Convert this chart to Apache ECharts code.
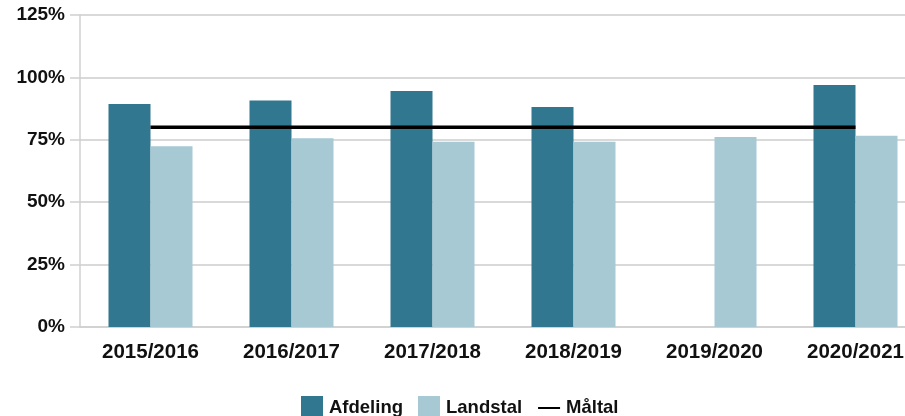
<!DOCTYPE html>
<html>
<head>
<meta charset="utf-8">
<script src="https://cdn.jsdelivr.net/npm/echarts@6/dist/echarts.min.js"></script>
<style>
    html, body { margin: 0; padding: 0; background: #fff; overflow: hidden; }
    /* the plot runs past the right edge of the picture, so the canvas is wider than the window */
    #chart { width: 926px; height: 416px; }
</style>
</head>
<body>
<div id="chart"></div>
<script>
var categories = ['2015/2016', '2016/2017', '2017/2018', '2018/2019', '2019/2020', '2020/2021'];
var afdeling = [89.3, 90.7, 94.6, 88.1, null, 97.0];
var landstal = [72.4, 75.6, 74.2, 74.2, 76.1, 76.6];
var maaltal = [80, 80, 80, 80, 80, 80];
var yTicks = [0, 25, 50, 75, 100, 125];

var fontFamily = '"Liberation Sans", Arial, Helvetica, sans-serif';

var myChart = echarts.init(document.getElementById('chart'));
var option = {
    animation: false,
    grid: {
        left: 80,
        top: 15,
        right: 0,
        bottom: 89
    },
    legend: {
        left: 301,
        top: 396,
        padding: 0,
        itemWidth: 22,
        itemHeight: 24,
        itemGap: 15,
        data: [
            { name: 'Afdeling', icon: 'rect' },
            { name: 'Landstal', icon: 'rect' },
            // hide the circle echarts puts on line legend icons
            { name: 'Måltal', itemStyle: { color: 'rgba(0,0,0,0)', borderWidth: 0 } }
        ],
        textStyle: {
            color: '#111',
            fontSize: 18.5,
            fontWeight: 'bold',
            fontFamily: fontFamily,
            padding: [0, 0, 0, 1]
        }
    },
    xAxis: {
        type: 'category',
        data: categories,
        axisLine: {
            show: true,
            lineStyle: { color: '#d0d0d0', width: 1.5 }
        },
        axisTick: { show: false },
        axisLabel: {
            interval: 0,
            margin: 15,
            color: '#111',
            fontSize: 20.5,
            fontWeight: 'bold',
            fontFamily: fontFamily
        }
    },
    yAxis: {
        type: 'value',
        min: yTicks[0],
        max: yTicks[yTicks.length - 1],
        interval: 25,
        axisLine: {
            show: true,
            lineStyle: { color: '#d0d0d0', width: 1.5 }
        },
        axisTick: {
            show: true,
            length: 10,
            lineStyle: { color: '#d0d0d0', width: 1.5 }
        },
        axisLabel: {
            margin: 15,
            padding: [3, 0, 0, 0],
            formatter: '{value}%',
            color: '#111',
            fontSize: 19,
            fontWeight: 'bold',
            fontFamily: fontFamily
        },
        splitLine: {
            lineStyle: { color: '#cccccc', width: 1.5 }
        }
    },
    series: [{
        name: 'Afdeling',
        type: 'bar',
        data: afdeling,
        barWidth: 42,
        barGap: 0,
        itemStyle: { color: '#327790' }
    }, {
        name: 'Landstal',
        type: 'bar',
        data: landstal,
        barWidth: 42,
        barGap: 0,
        itemStyle: { color: '#a6c9d4' }
    }, {
        name: 'Måltal',
        type: 'line',
        data: maaltal,
        symbol: 'none',
        z: 5,
        lineStyle: { color: '#000', width: 3.5 },
        itemStyle: { color: '#000' }
    }]
};
myChart.setOption(option);
</script>
</body>
</html>
